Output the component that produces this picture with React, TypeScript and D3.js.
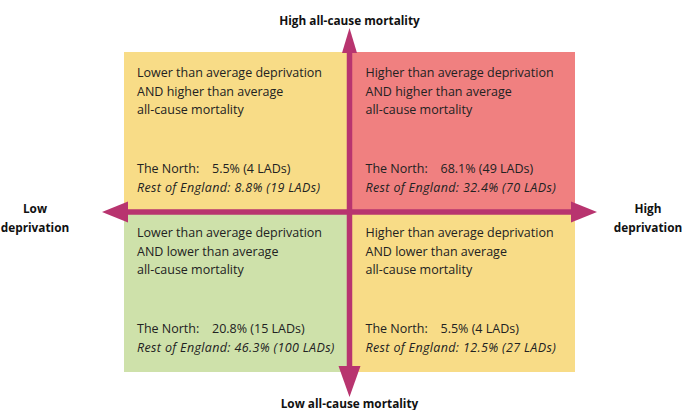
import React, { useEffect, useRef } from "react";
import * as d3 from "d3";

const quadrantKeys = ["lowDepHighMort", "highDepHighMort", "lowDepLowMort", "highDepLowMort"];
const quadrantTitles = [
  ["Lower than average deprivation", "AND higher than average", "all-cause mortality"],
  ["Higher than average deprivation", "AND higher than average", "all-cause mortality"],
  ["Lower than average deprivation", "AND lower than average", "all-cause mortality"],
  ["Higher than average deprivation", "AND lower than average", "all-cause mortality"],
];
const northPct = [5.5, 68.1, 20.8, 5.5];
const northLads = [4, 49, 15, 4];
const restPct = [8.8, 32.4, 46.3, 12.5];
const restLads = [19, 70, 100, 27];
const quadrantColors = ["#f8dc87", "#f08080", "#cee1aa", "#f8dc87"];
// position of each quadrant on the deprivation / mortality axes
const quadrantCols = [0, 1, 0, 1];
const quadrantRows = [1, 1, 0, 0];

const axisColor = "#b8346f";
const font = "'Open Sans', sans-serif";

export default function App() {
  const ref = useRef<SVGSVGElement>(null);

  useEffect(() => {
    const svg = d3.select(ref.current);
    svg.selectAll("*").remove();

    const x = d3.scaleLinear().domain([0, 2]).range([124, 575]);
    const y = d3.scaleLinear().domain([0, 2]).range([372, 52]);
    const cx = x(1);
    const cy = y(1);

    const data = quadrantKeys.map((k, i) => ({
      key: k,
      title: quadrantTitles[i],
      north: northPct[i],
      northN: northLads[i],
      rest: restPct[i],
      restN: restLads[i],
      color: quadrantColors[i],
      col: quadrantCols[i],
      row: quadrantRows[i],
    }));

    const g = svg.selectAll(".quad").data(data).enter().append("g").attr("class", "quad");

    g.append("rect")
      .attr("x", (d) => x(d.col))
      .attr("y", (d) => y(d.row + 1))
      .attr("width", (d) => x(d.col + 1) - x(d.col))
      .attr("height", (d) => y(d.row) - y(d.row + 1))
      .attr("fill", (d) => d.color);

    const tx = (d) => x(d.col) + (d.col === 0 ? 13 : 16);
    const ty = (d) => y(d.row + 1);

    g.each(function (d) {
      const gg = d3.select(this);
      d.title.forEach((line, j) => {
        gg.append("text")
          .attr("x", tx(d))
          .attr("y", ty(d) + 25 + j * 18.5)
          .text(line);
      });
      gg.append("text").attr("x", tx(d)).attr("y", ty(d) + 121).text("The North:");
      gg.append("text")
        .attr("x", tx(d) + 75)
        .attr("y", ty(d) + 121)
        .text(`${d.north.toFixed(1)}% (${d.northN} LADs)`);
      gg.append("text")
        .attr("x", tx(d))
        .attr("y", ty(d) + 140)
        .attr("font-style", "italic")
        .attr("letter-spacing", 0.35)
        .text(`Rest of England: ${d.rest.toFixed(1)}% (${d.restN} LADs)`);
    });

    g.selectAll("text")
      .attr("font-family", font)
      .attr("font-size", 12.5)
      .attr("fill", "#222");

    // axes
    svg.append("rect")
      .attr("x", cx - 2.75)
      .attr("y", 45)
      .attr("width", 5.5)
      .attr("height", 335)
      .attr("fill", axisColor);
    svg.append("rect")
      .attr("x", 115)
      .attr("y", cy - 2.75)
      .attr("width", 470)
      .attr("height", 5.5)
      .attr("fill", axisColor);

    const heads = [
      [[cx, 28], [cx - 7.5, 53], [cx + 7.5, 53]],
      [[cx, 397], [cx - 11, 366], [cx + 11, 366]],
      [[102, cy], [128, cy - 10.5], [128, cy + 10.5]],
      [[597, cy], [571, cy - 10.5], [571, cy + 10.5]],
    ];
    svg.selectAll(".head")
      .data(heads)
      .enter()
      .append("path")
      .attr("class", "head")
      .attr("d", (d) => d3.line()(d) + "Z")
      .attr("fill", axisColor);

    const labels = [
      { t: ["High all-cause mortality"], x: cx, y: 25 },
      { t: ["Low all-cause mortality"], x: cx, y: 408 },
      { t: ["Low", "deprivation"], x: 35, y: 213 },
      { t: ["High", "deprivation"], x: 648, y: 213 },
    ];
    labels.forEach((l) => {
      l.t.forEach((s, j) => {
        svg.append("text")
          .attr("x", l.x)
          .attr("y", l.y + j * 19)
          .attr("text-anchor", "middle")
          .attr("font-family", font)
          .attr("font-weight", "bold")
          .attr("font-size", 11.8)
          .attr("fill", "#111")
          .text(s);
      });
    });
  }, []);

  return (
    <svg
      ref={ref}
      width={684}
      height={410}
      style={{ position: "absolute", left: 0, top: 0, background: "#fff" }}
    />
  );
}
